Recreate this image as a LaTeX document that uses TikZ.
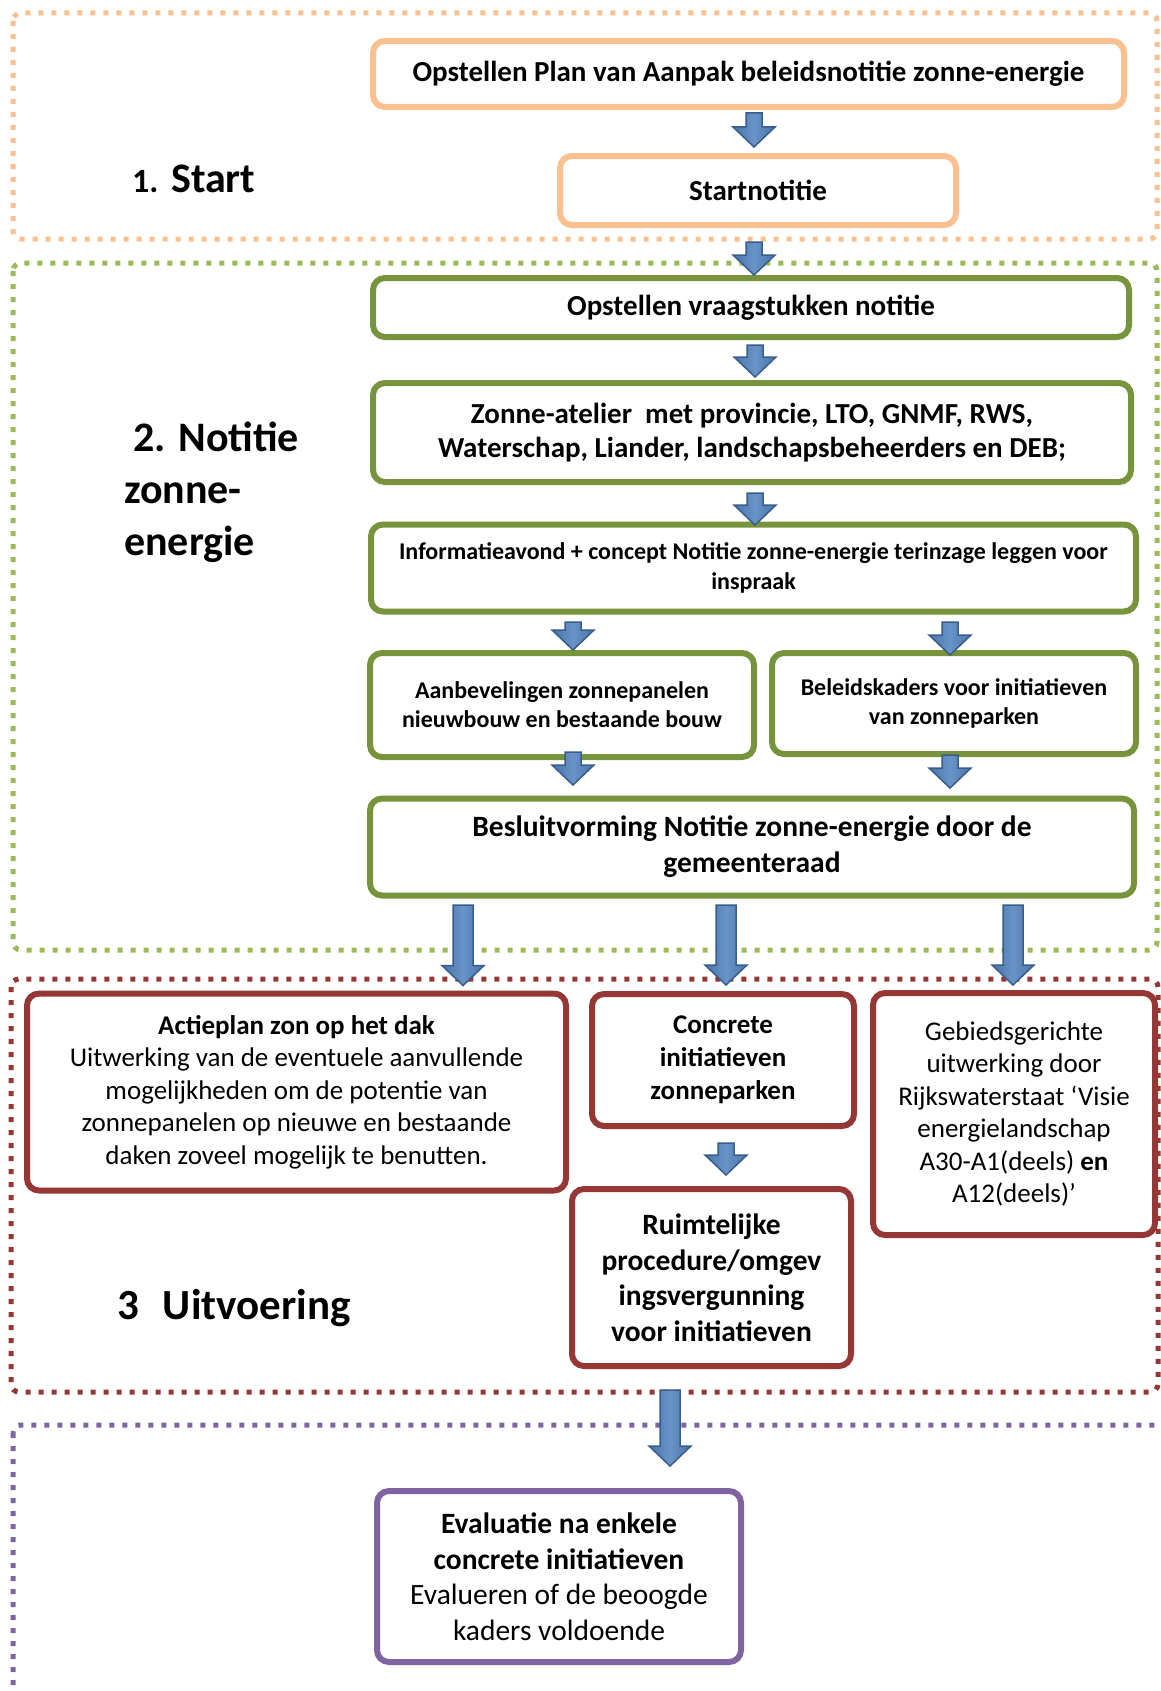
\documentclass[tikz,border=0pt]{standalone}
\usepackage{fontspec}
\setmainfont{Carlito}
\usetikzlibrary{calc}

\definecolor{startrand}{HTML}{FAC090}
\definecolor{notitierand}{HTML}{77933C}
\definecolor{notitiekader}{HTML}{9BBB59}
\definecolor{uitvoerrand}{HTML}{953735}
\definecolor{evalrand}{HTML}{8064A2}
\definecolor{pijlvul}{HTML}{4F81BD}
\definecolor{pijlrand}{HTML}{385D8A}

\begin{document}
\begin{tikzpicture}[
    x=1pt, y=-1pt,
    box/.style={draw, rounded corners=12pt, line width=6pt, fill=white, align=center, inner sep=0pt, font=\bfseries\fontsize{29}{34}\selectfont},
    kader/.style={line width=5pt, dash pattern=on 5pt off 8pt, rounded corners=8pt},
    fase/.style={anchor=base west, inner sep=0pt, align=left, font=\bfseries\fontsize{42}{52}\selectfont},
    pijl/.style={draw=pijlrand, line width=1.5pt, left color=pijlvul!90!black, right color=pijlvul!90!black, middle color=pijlvul!85!white,
      to path={let \p1=(\tikztostart), \p2=(\tikztotarget) in
        (\x1-#1,\y1) -- (\x1+#1,\y1) -- (\x1+#1,\y2+20pt) -- (\x1+21pt,\y2+20pt) -- (\x1,\y2)
        -- (\x1-21pt,\y2+20pt) -- (\x1-#1,\y2+20pt) -- cycle}},
    pijl/.default=8pt
  ]
  \useasboundingbox (0,0) rectangle (1161,1691);
  \fill[white] (0,0) rectangle (1161,1691);

  % fasekaders
  \draw[kader, draw=startrand] (13,13) rectangle (1157,239);
  \draw[kader, draw=notitiekader] (13,263) rectangle (1157,950);
  \draw[kader, draw=uitvoerrand] (11,979) rectangle (1158,1392);
  \draw[kader, draw=evalrand] (13,1425) rectangle (1185,1730);

  \node[fase] (startlabel) at (132,192) {{\fontsize{34}{40}\selectfont 1.} Start};
  \node[fase] (notitielabel) at (124,555) {\hspace{9pt}2. Notitie\\zonne-\\energie};
  \node[fase, font=\bfseries\fontsize{43}{52}\selectfont] (uitvoerlabel) at (117,1319) {3\hspace{24pt}Uitvoering};

  % 1. Start
  \node[box, draw=startrand, minimum width=751pt, minimum height=66pt] (plan) at (748.5,74)
    {Opstellen Plan van Aanpak beleidsnotitie zonne-energie};
  \node[box, draw=startrand, minimum width=396pt, minimum height=69pt] (startnotitie) at (758,190.5)
    {Startnotitie};

  % 2. Notitie
  \node[box, draw=notitierand, minimum width=756pt, minimum height=59pt] (vraagstukken) at (751,307.5)
    {Opstellen vraagstukken notitie};
  \node[box, draw=notitierand, minimum width=758pt, minimum height=99pt] (atelier) at (752,432.5)
    {Zonne-atelier\ \ met provincie, LTO, GNMF, RWS,\\Waterschap, Liander, landschapsbeheerders en DEB;};
  \node[box, draw=notitierand, minimum width=765pt, minimum height=87pt, font=\bfseries\fontsize{24}{30}\selectfont] (inspraak) at (753.5,568)
    {Informatieavond + concept Notitie zonne-energie terinzage leggen voor\\inspraak};
  \node[box, draw=notitierand, minimum width=384pt, minimum height=104pt, font=\bfseries\fontsize{24}{29}\selectfont] (aanbevelingen) at (562,705)
    {Aanbevelingen zonnepanelen\\nieuwbouw en bestaande bouw};
  \node[box, draw=notitierand, minimum width=364pt, minimum height=101pt, font=\bfseries\fontsize{24}{29}\selectfont] (beleidskaders) at (954,703.5)
    {Beleidskaders voor initiatieven\\van zonneparken};
  \node[box, draw=notitierand, minimum width=764pt, minimum height=97pt, font=\bfseries\fontsize{29.5}{36}\selectfont] (besluit) at (752,847)
    {Besluitvorming Notitie zonne-energie door de\\gemeenteraad};

  % 3 Uitvoering
  \node[box, draw=uitvoerrand, minimum width=539pt, minimum height=197pt, font=\fontsize{27}{32.5}\selectfont] (actieplan) at (296.5,1092)
    {\textbf{Actieplan zon op het dak}\\Uitwerking van de eventuele aanvullende\\mogelijkheden om de potentie van\\zonnepanelen op nieuwe en bestaande\\daken zoveel mogelijk te benutten.};
  \node[box, draw=uitvoerrand, minimum width=262pt, minimum height=132pt, font=\bfseries\fontsize{27}{33}\selectfont] (concreet) at (723,1060)
    {Concrete\\initiatieven\\zonneparken};
  \node[box, draw=uitvoerrand, minimum width=282pt, minimum height=242pt, font=\fontsize{27}{32.5}\selectfont] (gebied) at (1014,1114)
    {Gebiedsgerichte\\uitwerking door\\Rijkswaterstaat ‘Visie\\energielandschap\\A30-A1(deels) \textbf{en}\\A12(deels)’};
  \node[box, draw=uitvoerrand, minimum width=279pt, minimum height=177pt, font=\bfseries\fontsize{29.5}{35.5}\selectfont] (ruimtelijk) at (711.5,1277.5)
    {Ruimtelijke\\procedure/omgev\\ingsvergunning\\voor initiatieven};

  % evaluatie
  \node[box, draw=evalrand, minimum width=364pt, minimum height=171pt, font=\fontsize{29.5}{35.5}\selectfont] (evaluatie) at (559,1576.5)
    {\textbf{Evaluatie na enkele}\\\textbf{concrete initiatieven}\\Evalueren of de beoogde\\kaders voldoende};

  % pijlen
  \draw[pijl] ([shift={(5.5,3)}]plan.south) to ([shift={(0,-6)}]startnotitie.north);
  \draw[pijl] ([shift={(-4,14)}]startnotitie.south) to (vraagstukken.north);
  \draw[pijl] ([shift={(4,5)}]vraagstukken.south) to ([shift={(0,-3)}]atelier.north);
  \draw[pijl] ([shift={(3,8)}]atelier.south) to ([shift={(0,3.5)}]inspraak.north);
  \draw[pijl] ([shift={(-180.5,7.5)}]inspraak.south) to (aanbevelingen.north);
  \draw[pijl] ([shift={(196.5,7.5)}]inspraak.south) to ([shift={(0,5)}]beleidskaders.north);
  \draw[pijl] ([shift={(11,-8)}]aanbevelingen.south) to ([shift={(0,-10.5)}]besluit.north);
  \draw[pijl] ([shift={(-4,-2)}]beleidskaders.south) to ([shift={(0,-7.5)}]besluit.north);
  \draw[pijl=10pt] ([shift={(-289,6.5)}]besluit.south) to ([shift={(0,-5)}]actieplan.north);
  \draw[pijl=10pt] ([shift={(-26,6.5)}]besluit.south) to ([shift={(0,-6)}]concreet.north);
  \draw[pijl=10pt] ([shift={(261,6.5)}]besluit.south) to ([shift={(0,-5)}]gebied.north);
  \draw[pijl] ([shift={(3,14)}]concreet.south) to ([shift={(0,-11)}]ruimtelijk.north);
  \draw[pijl=10pt] ([shift={(-41.5,21)}]ruimtelijk.south) to ([shift={(0,-22)}]evaluatie.north);
\end{tikzpicture}
\end{document}
